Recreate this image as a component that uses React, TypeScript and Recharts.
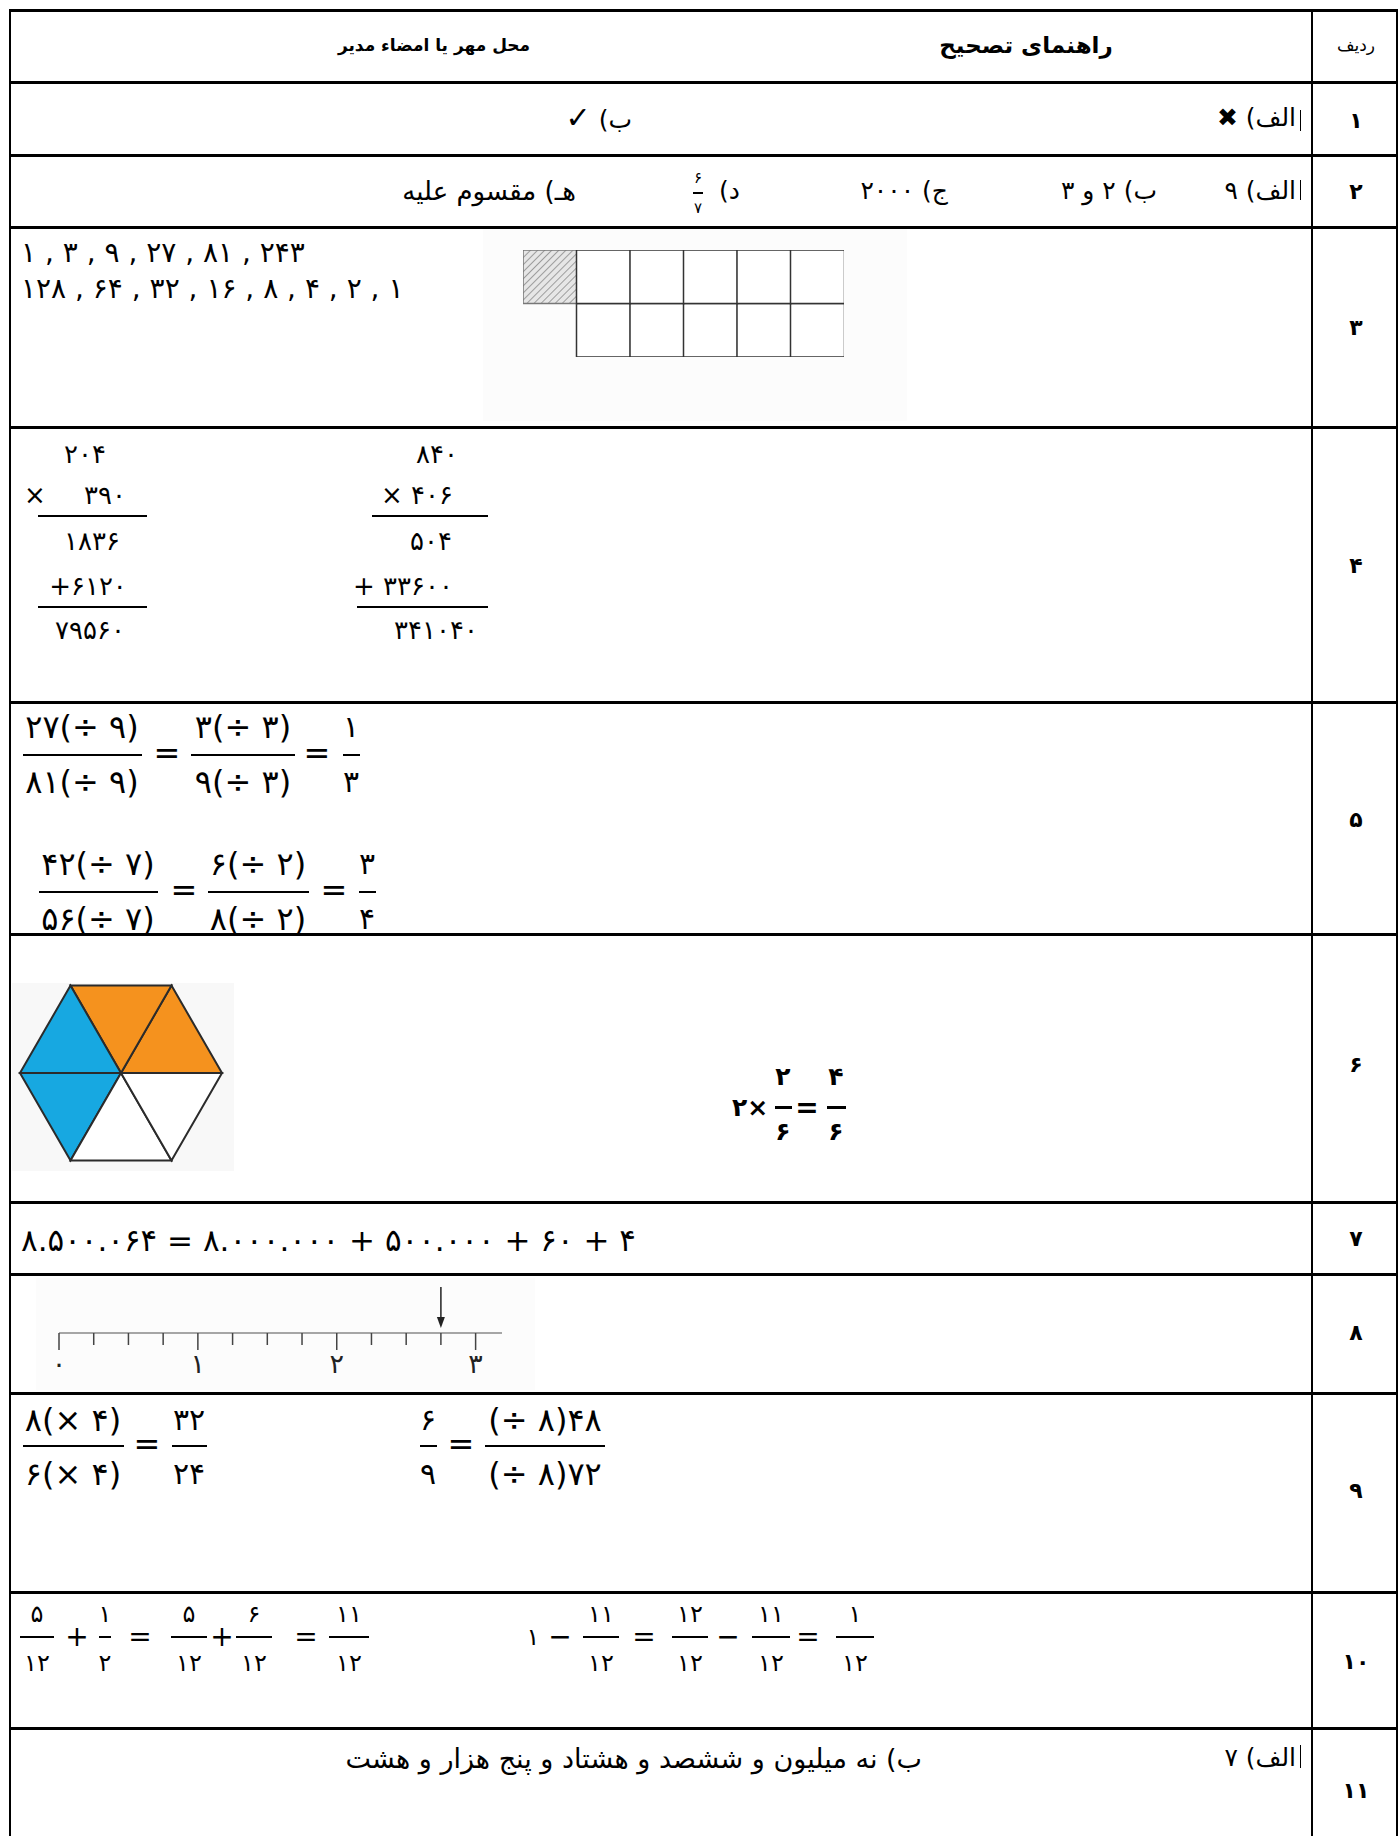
import React from 'react';
import {
  BarChart, Bar, XAxis, YAxis, Cell,
  RadarChart, Radar, PolarAngleAxis, PolarRadiusAxis,
  ScatterChart, Scatter,
} from 'recharts';

const FONT = '"DejaVu Sans", sans-serif';
const PAGE_W = 1400;
const PAGE_H = 1836;

// row numbers (ردیف)
const rowLabels = ['۱', '۲', '۳', '۴', '۵', '۶', '۷', '۸', '۹', '۱۰', '۱۱'];

// question 3: area model, 6 columns, each with a top and a bottom slot
const gridColumns = ['c1', 'c2', 'c3', 'c4', 'c5', 'c6'];
const gridTopRow = [1, 1, 1, 1, 1, 1];
const gridBottomRow = [0, 1, 1, 1, 1, 1];
const gridShaded = [true, false, false, false, false, false];

// question 6: hexagon cut in six triangles
const hexCorners = ['a', 'b', 'c', 'd', 'e', 'f'];
const hexTriangles = [[0, 1], [1, 2], [2, 3], [3, 4], [4, 5], [5, 0]];
const hexColors = ['#f5921e', '#f5921e', '#17a8e1', '#17a8e1', '#ffffff', '#ffffff'];

// question 8: number line
const lineTicks = [0, 0.25, 0.5, 0.75, 1, 1.25, 1.5, 1.75, 2, 2.25, 2.5, 2.75, 3];
const lineLabels = [0, 1, 2, 3];
const lineEnd = 3.19;
const arrowAt = [2.75];

const fa = (v: string | number) => String(v).replace(/\d/g, (d) => '۰۱۲۳۴۵۶۷۸۹'[+d]);

// every column has both slots; missing cells are drawn invisible
const gridData = gridColumns.map((col, i) => ({ col, bottom: 1, top: 1, hasBottom: gridBottomRow[i], hasTop: gridTopRow[i] }));

const hexData = hexCorners.map((corner, i) => {
  const row: Record<string, string | number> = { corner };
  hexTriangles.forEach((t, k) => {
    row['t' + k] = t.includes(i) ? 1 : 0;
  });
  return row;
});

const lineData = arrowAt.map((x) => ({ x, y: 0 }));

type TxtProps = {
  x: number;
  y: number;
  anchor?: 'left' | 'right' | 'center';
  size?: number;
  bold?: boolean;
  dir?: 'rtl' | 'ltr';
  children: React.ReactNode;
};

const Txt = ({ x, y, anchor = 'left', size = 22, bold = false, dir = 'ltr', children }: TxtProps) => {
  const h = Math.round(size * 1.6);
  const style: React.CSSProperties = {
    position: 'absolute',
    top: y - h / 2,
    height: h,
    lineHeight: h + 'px',
    fontSize: size,
    fontWeight: bold ? 'bold' : 'normal',
    whiteSpace: 'nowrap',
    direction: dir,
    color: '#000',
  };
  if (anchor === 'left') style.left = x;
  if (anchor === 'right') style.right = PAGE_W - x;
  if (anchor === 'center') {
    style.left = x - 300;
    style.width = 600;
    style.textAlign = 'center';
  }
  return <div style={style}>{children}</div>;
};

const Rule = ({ x1, x2, y, t = 2 }: { x1: number; x2: number; y: number; t?: number }) => (
  <div style={{ position: 'absolute', left: x1, top: y - t / 2, width: x2 - x1, height: t, background: '#000' }} />
);

const VRule = ({ x, y1, y2, t = 2 }: { x: number; y1: number; y2: number; t?: number }) => (
  <div style={{ position: 'absolute', left: x - t / 2, top: y1, width: t, height: y2 - y1, background: '#000' }} />
);

type FracProps = {
  cx: number;
  barY: number;
  w: number;
  num: string;
  den: string;
  size?: number;
  up?: number;
  down?: number;
  bold?: boolean;
  t?: number;
};

const Frac = ({ cx, barY, w, num, den, size = 26, up = 27, down = 27, bold = false, t = 2.5 }: FracProps) => (
  <>
    <Txt x={cx} y={barY - up} anchor="center" size={size} bold={bold}>{num}</Txt>
    <Rule x1={cx - w / 2} x2={cx + w / 2} y={barY} t={t} />
    <Txt x={cx} y={barY + down} anchor="center" size={size} bold={bold}>{den}</Txt>
  </>
);

const NumberTick = (props: any) => {
  const { x, y, payload } = props;
  const v = payload.value as number;
  const major = lineLabels.includes(v);
  return (
    <g>
      <line x1={x} x2={x} y1={y} y2={y + (major ? 17 : 12)} stroke="#444" strokeWidth={1.5} />
      {major && (
        <text x={x} y={y + 40} textAnchor="middle" fontSize={27} fontFamily={FONT} fill="#222">
          {fa(v)}
        </text>
      )}
    </g>
  );
};

const ArrowShape = (props: any) => {
  const { cx, cy } = props;
  return (
    <g>
      <line x1={cx} x2={cx} y1={cy - 46} y2={cy - 14} stroke="#222" strokeWidth={1.5} />
      <polygon points={`${cx - 4},${cy - 16} ${cx + 4},${cy - 16} ${cx},${cy - 5}`} fill="#222" />
    </g>
  );
};

const rowEdges = [82, 155, 227, 427, 702, 934, 1202, 1274, 1393, 1592, 1728];
const rowNumberY = [120, 191, 327, 565, 819, 1064, 1238, 1332, 1490, 1661, 1790];

export default function App() {
  return (
    <div
      style={{
        position: 'relative',
        width: PAGE_W,
        height: PAGE_H,
        overflow: 'hidden',
        background: '#fff',
        fontFamily: FONT,
      }}
    >
      <style>{'body{margin:0}'}</style>

      {/* faint picture backgrounds */}
      <div style={{ position: 'absolute', left: 483, top: 229, width: 424, height: 192, background: '#fcfcfc' }} />
      <div style={{ position: 'absolute', left: 12, top: 983, width: 222, height: 188, background: '#f8f8f8' }} />
      <div style={{ position: 'absolute', left: 36, top: 1278, width: 499, height: 112, background: '#fcfcfc' }} />

      {/* table frame */}
      <Rule x1={9} x2={1398} y={10} t={3} />
      {rowEdges.map((y) => (
        <Rule key={y} x1={9} x2={1398} y={y} t={3} />
      ))}
      <VRule x={10} y1={9} y2={PAGE_H} t={2} />
      <VRule x={1397} y1={9} y2={PAGE_H} t={2} />
      <VRule x={1312} y1={9} y2={PAGE_H} t={2.5} />
      {/* short cell-edge marks beside the first answers */}
      <VRule x={1300} y1={110} y2={131} t={1} />
      <VRule x={1300} y1={180} y2={200} t={1} />
      <VRule x={1300} y1={1745} y2={1768} t={1} />

      {/* header */}
      <Txt x={1356} y={45} anchor="center" size={17} dir="rtl">ردیف</Txt>
      <Txt x={1026} y={45} anchor="center" size={23} bold dir="rtl">راهنمای تصحیح</Txt>
      <Txt x={434} y={45} anchor="center" size={17} bold dir="rtl">محل مهر یا امضاء مدیر</Txt>

      {rowLabels.map((r, i) => (
        <Txt key={r} x={1356} y={rowNumberY[i]} anchor="center" size={22} bold dir="rtl">{r}</Txt>
      ))}

      {/* 1 */}
      <Txt x={1296} y={118} anchor="right" size={25} dir="rtl">الف) <b>✖</b></Txt>
      <Txt x={632} y={118} anchor="right" size={25} dir="rtl">ب) <b style={{ fontSize: 30 }}>✓</b></Txt>

      {/* 2 */}
      <Txt x={1296} y={191} anchor="right" size={25} dir="rtl">الف) ۹</Txt>
      <Txt x={1157} y={191} anchor="right" size={25} dir="rtl">ب) ۲ و ۳</Txt>
      <Txt x={948} y={191} anchor="right" size={25} dir="rtl">ج) ۲۰۰۰</Txt>
      <Txt x={740} y={191} anchor="right" size={25} dir="rtl">د)</Txt>
      <Frac cx={698} barY={193} w={10} num="۶" den="۷" size={15} up={15} down={15} t={2} />
      <Txt x={576} y={191} anchor="right" size={26} dir="rtl">هـ) مقسوم علیه</Txt>

      {/* 3 */}
      <Txt x={21} y={252} size={28}>۱ , ۳ , ۹ , ۲۷ , ۸۱ , ۲۴۳</Txt>
      <Txt x={21} y={288} size={28}>۱۲۸ , ۶۴ , ۳۲ , ۱۶ , ۸ , ۴ , ۲ , ۱</Txt>
      <div style={{ position: 'absolute', left: 523, top: 250 }}>
        <BarChart width={321} height={107} data={gridData} margin={{ top: 0, right: 0, bottom: 0, left: 0 }} barCategoryGap={0} barGap={0}>
          <defs>
            <pattern id="hatch" patternUnits="userSpaceOnUse" width="5" height="5" patternTransform="rotate(45)">
              <rect width="5" height="5" fill="#e6e6e6" />
              <line x1="0" y1="0" x2="0" y2="5" stroke="#8a8a8a" strokeWidth="1.6" />
            </pattern>
          </defs>
          <XAxis dataKey="col" hide />
          <YAxis domain={[0, 2]} hide />
          <Bar dataKey="bottom" stackId="g" isAnimationActive={false}>
            {gridData.map((d, i) => (
              <Cell
                key={i}
                fill={d.hasBottom ? '#fff' : 'none'}
                stroke={d.hasBottom ? '#333' : 'none'}
                strokeWidth={1.5}
              />
            ))}
          </Bar>
          <Bar dataKey="top" stackId="g" isAnimationActive={false}>
            {gridData.map((d, i) => (
              <Cell
                key={i}
                fill={gridShaded[i] ? 'url(#hatch)' : '#fff'}
                stroke={d.hasTop ? (gridShaded[i] ? '#777' : '#333') : 'none'}
                strokeWidth={1.5}
              />
            ))}
          </Bar>
        </BarChart>
      </div>

      {/* 4 */}
      <Txt x={85} y={454} anchor="center" size={26}>۲۰۴</Txt>
      <Txt x={24} y={495} size={26}>×</Txt>
      <Txt x={105} y={495} anchor="center" size={26}>۳۹۰</Txt>
      <Rule x1={38} x2={147} y={516} t={2} />
      <Txt x={92} y={541} anchor="center" size={26}>۱۸۳۶</Txt>
      <Txt x={88} y={586} anchor="center" size={26}>+۶۱۲۰</Txt>
      <Rule x1={38} x2={147} y={607} t={2} />
      <Txt x={90} y={630} anchor="center" size={26}>۷۹۵۶۰</Txt>

      <Txt x={437} y={454} anchor="center" size={26}>۸۴۰</Txt>
      <Txt x={417} y={495} anchor="center" size={26}>× ۴۰۶</Txt>
      <Rule x1={372} x2={488} y={516} t={2} />
      <Txt x={431} y={541} anchor="center" size={26}>۵۰۴</Txt>
      <Txt x={403} y={586} anchor="center" size={26}>+ ۳۳۶۰۰</Txt>
      <Rule x1={357} x2={488} y={607} t={2} />
      <Txt x={436} y={630} anchor="center" size={26}>۳۴۱۰۴۰</Txt>

      {/* 5 */}
      <Frac cx={82} barY={755} w={119} num="۲۷(÷ ۹)" den="۸۱(÷ ۹)" size={32} up={28} down={27} />
      <Txt x={167} y={753} anchor="center" size={32}>=</Txt>
      <Frac cx={243} barY={755} w={104} num="۳(÷ ۳)" den="۹(÷ ۳)" size={32} up={28} down={27} />
      <Txt x={317} y={753} anchor="center" size={32}>=</Txt>
      <Frac cx={351} barY={755} w={17} num="۱" den="۳" size={30} up={28} down={27} />

      <Frac cx={98} barY={892} w={119} num="۴۲(÷ ۷)" den="۵۶(÷ ۷)" size={32} up={28} down={27} />
      <Txt x={184} y={890} anchor="center" size={32}>=</Txt>
      <Frac cx={258} barY={892} w={101} num="۶(÷ ۲)" den="۸(÷ ۲)" size={32} up={28} down={27} />
      <Txt x={334} y={890} anchor="center" size={32}>=</Txt>
      <Frac cx={367} barY={892} w={17} num="۳" den="۴" size={30} up={28} down={27} />

      {/* 6 */}
      <div style={{ position: 'absolute', left: 10, top: 978 }}>
        <RadarChart
          width={222}
          height={190}
          cx={111}
          cy={95}
          outerRadius={101}
          startAngle={-60}
          endAngle={300}
          data={hexData}
          margin={{ top: 0, right: 0, bottom: 0, left: 0 }}
        >
          <PolarAngleAxis dataKey="corner" tick={false} axisLine={false} tickLine={false} />
          <PolarRadiusAxis domain={[0, 1]} tick={false} axisLine={false} />
          {hexTriangles.map((_, k) => (
            <Radar
              key={k}
              dataKey={'t' + k}
              fill={hexColors[k]}
              fillOpacity={1}
              stroke="#2b2b2b"
              strokeWidth={2}
              dot={false}
              isAnimationActive={false}
            />
          ))}
        </RadarChart>
      </div>
      <Txt x={750} y={1108} anchor="center" size={25} bold>۲×</Txt>
      <Frac cx={783} barY={1107} w={17} num="۲" den="۶" size={25} bold up={30} down={25} t={3} />
      <Txt x={807} y={1107} anchor="center" size={28} bold>=</Txt>
      <Frac cx={836} barY={1107} w={19} num="۴" den="۶" size={25} bold up={30} down={25} t={3} />

      {/* 7 */}
      <Txt x={21} y={1240} size={31}>۸.۵۰۰.۰۶۴ = ۸.۰۰۰.۰۰۰ + ۵۰۰.۰۰۰ + ۶۰ + ۴</Txt>

      {/* 8 */}
      <div style={{ position: 'absolute', left: 39, top: 1280 }}>
        <ScatterChart width={483} height={103} margin={{ top: 0, right: 20, bottom: 0, left: 20 }}>
          <XAxis
            type="number"
            dataKey="x"
            domain={[0, lineEnd]}
            allowDataOverflow
            ticks={lineTicks}
            interval={0}
            tickSize={0}
            tickMargin={0}
            tickLine={false}
            axisLine={{ stroke: '#8a8a8a', strokeWidth: 1.5 }}
            height={50}
            tick={<NumberTick />}
          />
          <YAxis type="number" dataKey="y" domain={[0, 1]} hide />
          <Scatter data={lineData} shape={<ArrowShape />} isAnimationActive={false} />
        </ScatterChart>
      </div>

      {/* 9 */}
      <Frac cx={73} barY={1446} w={101} num="۸(× ۴)" den="۶(× ۴)" size={32} up={26} down={28} />
      <Txt x={147} y={1444} anchor="center" size={32}>=</Txt>
      <Frac cx={189} barY={1446} w={35} num="۳۲" den="۲۴" size={30} up={26} down={28} />
      <Frac cx={428} barY={1446} w={17} num="۶" den="۹" size={30} up={26} down={28} />
      <Txt x={461} y={1444} anchor="center" size={32}>=</Txt>
      <Frac cx={545} barY={1446} w={120} num="(÷ ۸)۴۸" den="(÷ ۸)۷۲" size={32} up={26} down={28} />

      {/* 10 */}
      <Frac cx={37} barY={1637} w={34} num="۵" den="۱۲" size={24} up={23} down={26} />
      <Txt x={77} y={1636} anchor="center" size={28}>+</Txt>
      <Frac cx={105} barY={1637} w={12} num="۱" den="۲" size={24} up={23} down={26} />
      <Txt x={140} y={1636} anchor="center" size={28}>=</Txt>
      <Frac cx={189} barY={1637} w={36} num="۵" den="۱۲" size={24} up={23} down={26} />
      <Txt x={222} y={1636} anchor="center" size={28}>+</Txt>
      <Frac cx={254} barY={1637} w={36} num="۶" den="۱۲" size={24} up={23} down={26} />
      <Txt x={306} y={1636} anchor="center" size={28}>=</Txt>
      <Frac cx={349} barY={1637} w={40} num="۱۱" den="۱۲" size={24} up={23} down={26} />

      <Txt x={533} y={1637} anchor="center" size={24}>۱</Txt>
      <Txt x={560} y={1636} anchor="center" size={28}>−</Txt>
      <Frac cx={601} barY={1637} w={36} num="۱۱" den="۱۲" size={24} up={23} down={26} />
      <Txt x={644} y={1636} anchor="center" size={28}>=</Txt>
      <Frac cx={690} barY={1637} w={36} num="۱۲" den="۱۲" size={24} up={23} down={26} />
      <Txt x={728} y={1636} anchor="center" size={28}>−</Txt>
      <Frac cx={771} barY={1637} w={38} num="۱۱" den="۱۲" size={24} up={23} down={26} />
      <Txt x={808} y={1636} anchor="center" size={28}>=</Txt>
      <Frac cx={855} barY={1637} w={38} num="۱" den="۱۲" size={24} up={23} down={26} />

      {/* 11 */}
      <Txt x={1296} y={1758} anchor="right" size={25} dir="rtl">الف) ۷</Txt>
      <Txt x={922} y={1758} anchor="right" size={27} dir="rtl">ب) نه میلیون و ششصد و هشتاد و پنج هزار و هشت</Txt>
    </div>
  );
}
